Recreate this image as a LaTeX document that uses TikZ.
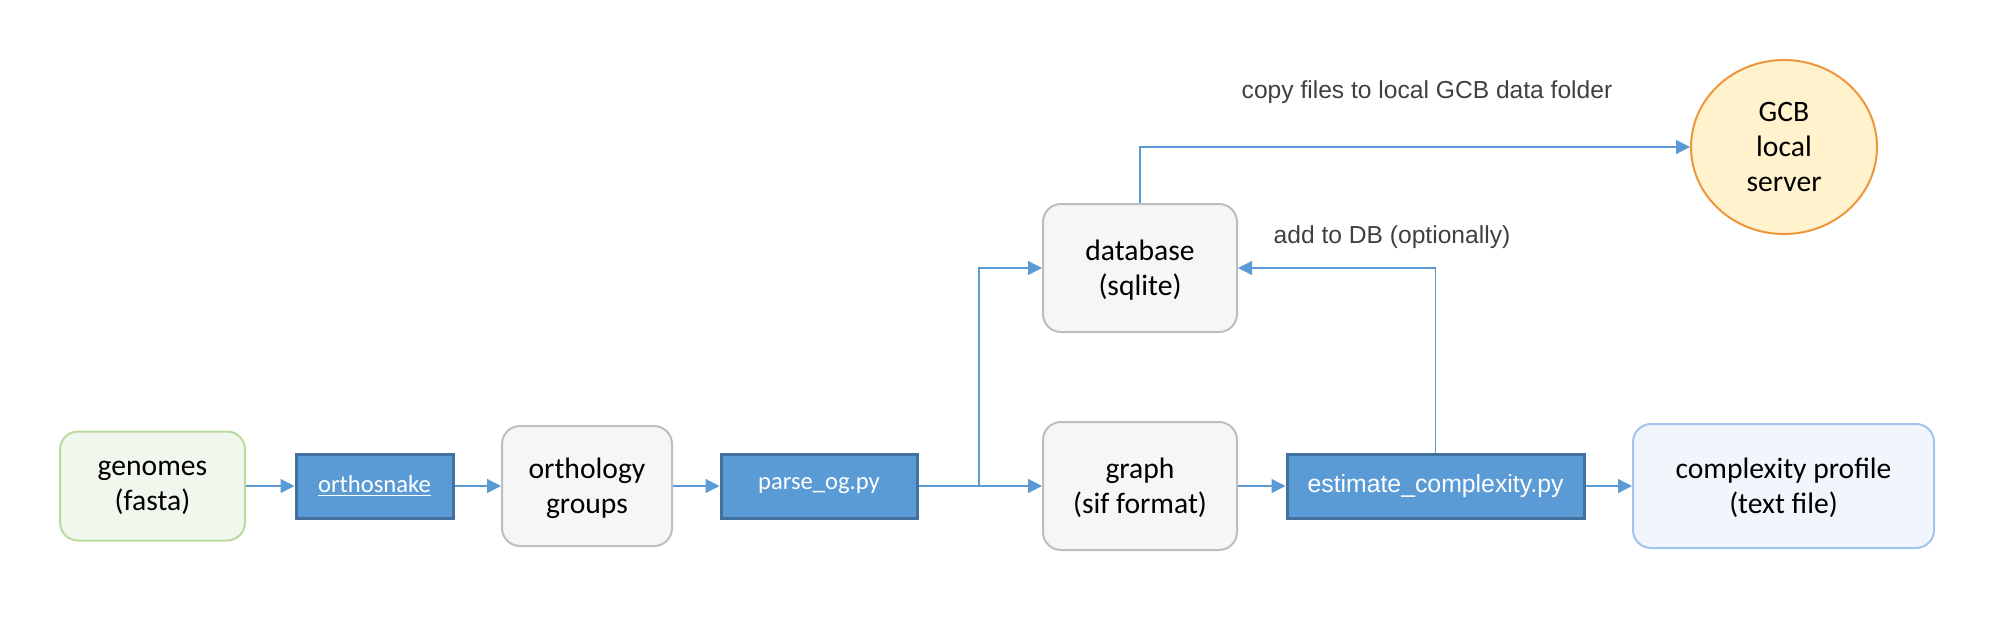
\documentclass[tikz,border=0pt]{standalone}
\usepackage{fontspec}
\setmainfont{Carlito}
\newfontfamily\arialfont{Liberation Sans}
\usetikzlibrary{shapes,arrows.meta,positioning,calc}
\definecolor{flowblue}{RGB}{91,155,213}
\definecolor{flowbluedark}{RGB}{65,113,156}
\definecolor{genomefill}{RGB}{241,247,237}
\definecolor{genomeborder}{RGB}{185,218,160}
\definecolor{datafill}{RGB}{246,246,246}
\definecolor{databorder}{RGB}{190,190,190}
\definecolor{profilefill}{RGB}{241,246,252}
\definecolor{profileborder}{RGB}{160,195,240}
\definecolor{serverfill}{RGB}{255,242,204}
\definecolor{serverborder}{RGB}{237,150,60}
\definecolor{labelgray}{RGB}{64,64,64}

\begin{document}
\begin{tikzpicture}[x=0.5pt, y=-0.5pt,
    databox/.style={draw=databorder, fill=datafill, rounded corners=9pt, line width=1pt, text depth=0pt,
        align=center, font=\fontsize{14.8}{17.5}\selectfont, minimum width=97pt, minimum height=64pt},
    scriptbox/.style={draw=flowbluedark, fill=flowblue, line width=1.5pt, text=white,
        font=\fontsize{12.3}{15}\selectfont, minimum height=32pt},
    flow/.style={draw=flowblue, line width=0.65pt, -{Triangle[length=7pt,width=7pt]}},
    note/.style={text=labelgray, font=\arialfont\fontsize{12.3}{15}\selectfont}]
    \useasboundingbox (0,0) rectangle (2006,618);

    % bottom row
    \node[databox, draw=genomeborder, fill=genomefill, minimum width=92.5pt, minimum height=54.5pt] (genomes) at (152.5,486) {genomes\\(fasta)};
    \node[scriptbox, minimum width=78.5pt] (orthosnake) at (374.5,486) {\underline{orthosnake}};
    \node[databox, minimum width=85pt, minimum height=60pt] (groups) at (587,486) {orthology\\groups};
    \node[scriptbox, minimum width=98pt] (parse) at (819,486) {parse\_og.py};
    \node[databox] (graph) at (1140,486) {graph\\(sif format)};
    \node[scriptbox, minimum width=148.5pt, font=\arialfont\fontsize{12.4}{15}\selectfont] (estimate) at (1435.5,486) {estimate\_complexity.py};
    \node[databox, draw=profileborder, fill=profilefill, minimum width=150.5pt, minimum height=62pt] (profile) at (1783.5,486) {complexity profile\\(text file)};

    % upper part
    \node[databox] (db) at (1140,268) {database\\(sqlite)};
    \node[ellipse, draw=serverborder, fill=serverfill, line width=1pt, inner sep=0pt, align=center,
        font=\fontsize{14.8}{17.5}\selectfont, minimum width=93pt, minimum height=87pt] (gcb) at (1784,147) {GCB\\local\\server};

    \coordinate (split) at (979,486);

    \draw[flow] (genomes) -- (orthosnake);
    \draw[flow] (orthosnake) -- (groups);
    \draw[flow] (groups) -- (parse);
    \draw[flow] (parse) -- (graph);
    \draw[flow] (split) |- (db);
    \draw[flow] (graph) -- (estimate);
    \draw[flow] (estimate) -- (profile);
    \draw[flow] (estimate.north) |- (db);
    \draw[flow] (db.north) |- (gcb);

    \node[note] (copylabel) at (1427,92) {copy files to local GCB data folder};
    \node[note] (dblabel) at (1392,237) {add to DB (optionally)};
\end{tikzpicture}
\end{document}
